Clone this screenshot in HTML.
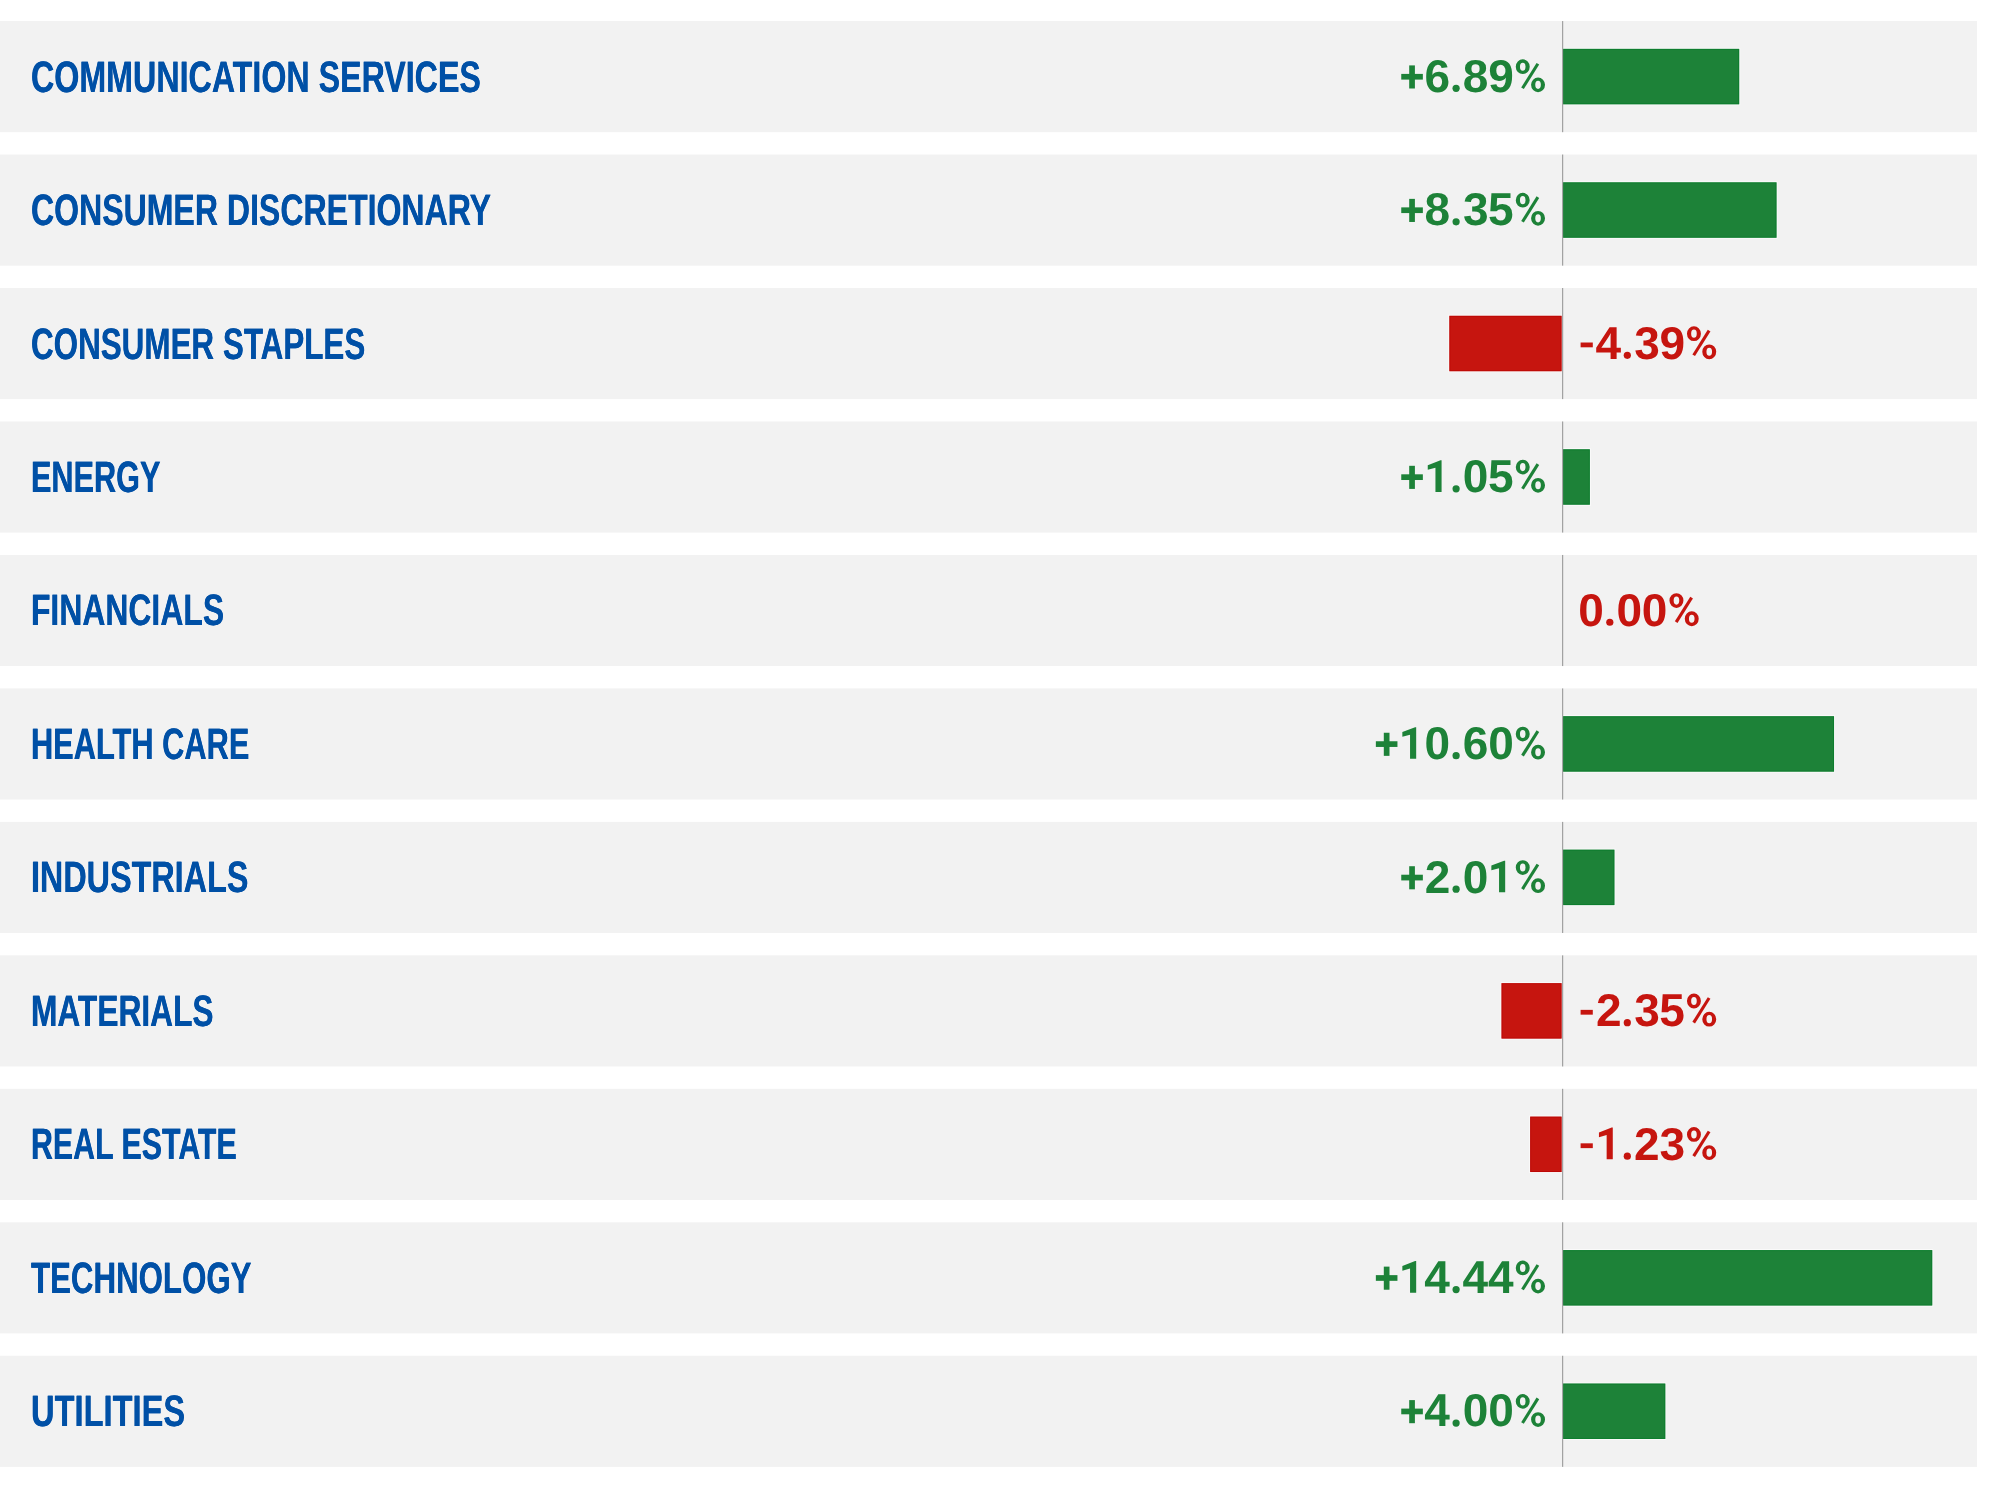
<!DOCTYPE html><html><head><meta charset="utf-8"><style>html,body{margin:0;padding:0;background:#ffffff;width:2000px;height:1490px;overflow:hidden}svg{display:block;will-change:transform}text{font-family:"Liberation Sans",sans-serif;font-weight:bold;text-rendering:geometricPrecision}</style></head><body>
<svg width="2000" height="1490" viewBox="0 0 2000 1490">
<rect x="0" y="21.07" width="1977" height="111.1" fill="#f2f2f2"/>
<rect x="1562.00" y="47.87" width="178.18" height="57.40" fill="#fbfbfb"/><rect x="1563.00" y="48.87" width="176.18" height="55.40" fill="#1d8238"/><rect x="1563.50" y="49.37" width="175.18" height="54.40" fill="none" stroke="#037a28" stroke-width="1" stroke-opacity="0.6"/>
<rect x="1562.1" y="21.07" width="1.1" height="111.1" fill="#999999"/>
<text transform="translate(30.840 0) scale(0.73237 1)" x="0" y="91.57" font-size="44.0" fill="#0050a6" style="text-shadow:0.410px 0 0 #0050a6">COMMUNICATION SERVICES</text>
<g fill="#1d8238" color="#1d8238" font-size="46.0"><rect x="1401.25" y="73.90" width="21.60" height="5.7"/><rect x="1409.20" y="65.40" width="5.7" height="23.10"/><text x="1424.49" y="91.77">6</text><circle cx="1456.10" cy="88.37" r="3.6"/><text x="1462.69" y="91.77">8</text><text x="1488.21" y="91.77">9</text><path fill-rule="evenodd" d="M1515.77 66.70a6.98 7.38 0 1 0 13.96 0a6.98 7.38 0 1 0 -13.96 0ZM1519.95 66.70a2.8 4.05 0 1 0 5.60 0a2.8 4.05 0 1 0 -5.60 0ZM1531.07 84.87a6.98 7.38 0 1 0 13.96 0a6.98 7.38 0 1 0 -13.96 0ZM1535.25 84.87a2.8 4.05 0 1 0 5.60 0a2.8 4.05 0 1 0 -5.60 0Z"/><line x1="1537.90" y1="63.72" x2="1522.48" y2="88.30" stroke="currentColor" stroke-width="3.1"/></g>
<rect x="0" y="154.54" width="1977" height="111.1" fill="#f2f2f2"/>
<rect x="1562.00" y="181.34" width="215.51" height="57.40" fill="#fbfbfb"/><rect x="1563.00" y="182.34" width="213.51" height="55.40" fill="#1d8238"/><rect x="1563.50" y="182.84" width="212.51" height="54.40" fill="none" stroke="#037a28" stroke-width="1" stroke-opacity="0.6"/>
<rect x="1562.1" y="154.54" width="1.1" height="111.1" fill="#999999"/>
<text transform="translate(30.840 0) scale(0.72859 1)" x="0" y="225.04" font-size="44.0" fill="#0050a6" style="text-shadow:0.412px 0 0 #0050a6">CONSUMER DISCRETIONARY</text>
<g fill="#1d8238" color="#1d8238" font-size="46.0"><rect x="1401.25" y="207.37" width="21.60" height="5.7"/><rect x="1409.20" y="198.87" width="5.7" height="23.10"/><text x="1424.49" y="225.24">8</text><circle cx="1456.10" cy="221.84" r="3.6"/><text x="1463.00" y="225.24">3</text><text x="1488.03" y="225.24">5</text><path fill-rule="evenodd" d="M1515.77 200.17a6.98 7.38 0 1 0 13.96 0a6.98 7.38 0 1 0 -13.96 0ZM1519.95 200.17a2.8 4.05 0 1 0 5.60 0a2.8 4.05 0 1 0 -5.60 0ZM1531.07 218.34a6.98 7.38 0 1 0 13.96 0a6.98 7.38 0 1 0 -13.96 0ZM1535.25 218.34a2.8 4.05 0 1 0 5.60 0a2.8 4.05 0 1 0 -5.60 0Z"/><line x1="1537.90" y1="197.19" x2="1522.48" y2="221.77" stroke="currentColor" stroke-width="3.1"/></g>
<rect x="0" y="288.01" width="1977" height="111.1" fill="#f2f2f2"/>
<rect x="1448.35" y="314.81" width="114.25" height="57.40" fill="#fbfbfb"/><rect x="1449.35" y="315.81" width="112.25" height="55.40" fill="#c6150f"/><rect x="1449.85" y="316.31" width="111.25" height="54.40" fill="none" stroke="#b80000" stroke-width="1" stroke-opacity="0.6"/>
<rect x="1562.1" y="288.01" width="1.1" height="111.1" fill="#999999"/>
<text transform="translate(30.840 0) scale(0.71357 1)" x="0" y="358.51" font-size="44.0" fill="#0050a6" style="text-shadow:0.420px 0 0 #0050a6">CONSUMER STAPLES</text>
<g fill="#c6150f" color="#c6150f" font-size="46.0"><rect x="1580.6" y="342.51" width="12.20" height="4.80"/><text x="1595.50" y="358.71">4</text><circle cx="1627.30" cy="355.31" r="3.6"/><text x="1634.20" y="358.71">3</text><text x="1659.41" y="358.71">9</text><path fill-rule="evenodd" d="M1686.97 333.64a6.98 7.38 0 1 0 13.96 0a6.98 7.38 0 1 0 -13.96 0ZM1691.15 333.64a2.8 4.05 0 1 0 5.60 0a2.8 4.05 0 1 0 -5.60 0ZM1702.27 351.81a6.98 7.38 0 1 0 13.96 0a6.98 7.38 0 1 0 -13.96 0ZM1706.45 351.81a2.8 4.05 0 1 0 5.60 0a2.8 4.05 0 1 0 -5.60 0Z"/><line x1="1709.10" y1="330.66" x2="1693.68" y2="355.24" stroke="currentColor" stroke-width="3.1"/></g>
<rect x="0" y="421.48" width="1977" height="111.1" fill="#f2f2f2"/>
<rect x="1562.00" y="448.28" width="28.85" height="57.40" fill="#fbfbfb"/><rect x="1563.00" y="449.28" width="26.85" height="55.40" fill="#1d8238"/><rect x="1563.50" y="449.78" width="25.85" height="54.40" fill="none" stroke="#037a28" stroke-width="1" stroke-opacity="0.6"/>
<rect x="1562.1" y="421.48" width="1.1" height="111.1" fill="#999999"/>
<text transform="translate(30.840 0) scale(0.69654 1)" x="0" y="491.98" font-size="44.0" fill="#0050a6" style="text-shadow:0.431px 0 0 #0050a6">ENERGY</text>
<g fill="#1d8238" color="#1d8238" font-size="46.0"><rect x="1401.25" y="474.31" width="21.60" height="5.7"/><rect x="1409.20" y="465.81" width="5.7" height="23.10"/><path d="M1441.58 460.24 L1441.58 491.91 L1435.45 491.91 L1435.45 467.76 L1427.75 469.86 L1427.75 465.16 L1440.50 460.24Z"/><circle cx="1456.10" cy="488.78" r="3.6"/><text x="1462.75" y="492.18">0</text><text x="1488.03" y="492.18">5</text><path fill-rule="evenodd" d="M1515.77 467.11a6.98 7.38 0 1 0 13.96 0a6.98 7.38 0 1 0 -13.96 0ZM1519.95 467.11a2.8 4.05 0 1 0 5.60 0a2.8 4.05 0 1 0 -5.60 0ZM1531.07 485.28a6.98 7.38 0 1 0 13.96 0a6.98 7.38 0 1 0 -13.96 0ZM1535.25 485.28a2.8 4.05 0 1 0 5.60 0a2.8 4.05 0 1 0 -5.60 0Z"/><line x1="1537.90" y1="464.13" x2="1522.48" y2="488.71" stroke="currentColor" stroke-width="3.1"/></g>
<rect x="0" y="554.95" width="1977" height="111.1" fill="#f2f2f2"/>
<rect x="1562.1" y="554.95" width="1.1" height="111.1" fill="#999999"/>
<text transform="translate(30.840 0) scale(0.72468 1)" x="0" y="625.45" font-size="44.0" fill="#0050a6" style="text-shadow:0.414px 0 0 #0050a6">FINANCIALS</text>
<g fill="#c6150f" color="#c6150f" font-size="46.0"><text x="1578.25" y="625.65">0</text><circle cx="1609.80" cy="622.25" r="3.6"/><text x="1616.45" y="625.65">0</text><text x="1641.85" y="625.65">0</text><path fill-rule="evenodd" d="M1669.47 600.58a6.98 7.38 0 1 0 13.96 0a6.98 7.38 0 1 0 -13.96 0ZM1673.65 600.58a2.8 4.05 0 1 0 5.60 0a2.8 4.05 0 1 0 -5.60 0ZM1684.77 618.75a6.98 7.38 0 1 0 13.96 0a6.98 7.38 0 1 0 -13.96 0ZM1688.95 618.75a2.8 4.05 0 1 0 5.60 0a2.8 4.05 0 1 0 -5.60 0Z"/><line x1="1691.60" y1="597.60" x2="1676.18" y2="622.18" stroke="currentColor" stroke-width="3.1"/></g>
<rect x="0" y="688.42" width="1977" height="111.1" fill="#f2f2f2"/>
<rect x="1562.00" y="715.22" width="273.04" height="57.40" fill="#fbfbfb"/><rect x="1563.00" y="716.22" width="271.04" height="55.40" fill="#1d8238"/><rect x="1563.50" y="716.72" width="270.04" height="54.40" fill="none" stroke="#037a28" stroke-width="1" stroke-opacity="0.6"/>
<rect x="1562.1" y="688.42" width="1.1" height="111.1" fill="#999999"/>
<text transform="translate(30.840 0) scale(0.69963 1)" x="0" y="758.92" font-size="44.0" fill="#0050a6" style="text-shadow:0.429px 0 0 #0050a6">HEALTH CARE</text>
<g fill="#1d8238" color="#1d8238" font-size="46.0"><rect x="1375.85" y="741.25" width="21.60" height="5.7"/><rect x="1383.80" y="732.75" width="5.7" height="23.10"/><path d="M1416.18 727.18 L1416.18 758.85 L1410.05 758.85 L1410.05 734.70 L1402.35 736.80 L1402.35 732.10 L1415.10 727.18Z"/><text x="1424.55" y="759.12">0</text><circle cx="1456.10" cy="755.72" r="3.6"/><text x="1462.69" y="759.12">6</text><text x="1488.15" y="759.12">0</text><path fill-rule="evenodd" d="M1515.77 734.05a6.98 7.38 0 1 0 13.96 0a6.98 7.38 0 1 0 -13.96 0ZM1519.95 734.05a2.8 4.05 0 1 0 5.60 0a2.8 4.05 0 1 0 -5.60 0ZM1531.07 752.22a6.98 7.38 0 1 0 13.96 0a6.98 7.38 0 1 0 -13.96 0ZM1535.25 752.22a2.8 4.05 0 1 0 5.60 0a2.8 4.05 0 1 0 -5.60 0Z"/><line x1="1537.90" y1="731.07" x2="1522.48" y2="755.65" stroke="currentColor" stroke-width="3.1"/></g>
<rect x="0" y="821.89" width="1977" height="111.1" fill="#f2f2f2"/>
<rect x="1562.00" y="848.69" width="53.40" height="57.40" fill="#fbfbfb"/><rect x="1563.00" y="849.69" width="51.40" height="55.40" fill="#1d8238"/><rect x="1563.50" y="850.19" width="50.40" height="54.40" fill="none" stroke="#037a28" stroke-width="1" stroke-opacity="0.6"/>
<rect x="1562.1" y="821.89" width="1.1" height="111.1" fill="#999999"/>
<text transform="translate(30.840 0) scale(0.73490 1)" x="0" y="892.39" font-size="44.0" fill="#0050a6" style="text-shadow:0.408px 0 0 #0050a6">INDUSTRIALS</text>
<g fill="#1d8238" color="#1d8238" font-size="46.0"><rect x="1401.25" y="874.72" width="21.60" height="5.7"/><rect x="1409.20" y="866.22" width="5.7" height="23.10"/><text x="1424.67" y="892.59">2</text><circle cx="1456.10" cy="889.19" r="3.6"/><text x="1462.75" y="892.59">0</text><path d="M1505.18 860.65 L1505.18 892.32 L1499.05 892.32 L1499.05 868.17 L1491.35 870.27 L1491.35 865.57 L1504.10 860.65Z"/><path fill-rule="evenodd" d="M1515.77 867.52a6.98 7.38 0 1 0 13.96 0a6.98 7.38 0 1 0 -13.96 0ZM1519.95 867.52a2.8 4.05 0 1 0 5.60 0a2.8 4.05 0 1 0 -5.60 0ZM1531.07 885.69a6.98 7.38 0 1 0 13.96 0a6.98 7.38 0 1 0 -13.96 0ZM1535.25 885.69a2.8 4.05 0 1 0 5.60 0a2.8 4.05 0 1 0 -5.60 0Z"/><line x1="1537.90" y1="864.54" x2="1522.48" y2="889.12" stroke="currentColor" stroke-width="3.1"/></g>
<rect x="0" y="955.36" width="1977" height="111.1" fill="#f2f2f2"/>
<rect x="1500.51" y="982.16" width="62.09" height="57.40" fill="#fbfbfb"/><rect x="1501.51" y="983.16" width="60.09" height="55.40" fill="#c6150f"/><rect x="1502.01" y="983.66" width="59.09" height="54.40" fill="none" stroke="#b80000" stroke-width="1" stroke-opacity="0.6"/>
<rect x="1562.1" y="955.36" width="1.1" height="111.1" fill="#999999"/>
<text transform="translate(30.840 0) scale(0.72079 1)" x="0" y="1025.86" font-size="44.0" fill="#0050a6" style="text-shadow:0.416px 0 0 #0050a6">MATERIALS</text>
<g fill="#c6150f" color="#c6150f" font-size="46.0"><rect x="1580.6" y="1009.86" width="12.20" height="4.80"/><text x="1595.88" y="1026.06">2</text><circle cx="1627.30" cy="1022.66" r="3.6"/><text x="1634.20" y="1026.06">3</text><text x="1659.23" y="1026.06">5</text><path fill-rule="evenodd" d="M1686.97 1000.99a6.98 7.38 0 1 0 13.96 0a6.98 7.38 0 1 0 -13.96 0ZM1691.15 1000.99a2.8 4.05 0 1 0 5.60 0a2.8 4.05 0 1 0 -5.60 0ZM1702.27 1019.16a6.98 7.38 0 1 0 13.96 0a6.98 7.38 0 1 0 -13.96 0ZM1706.45 1019.16a2.8 4.05 0 1 0 5.60 0a2.8 4.05 0 1 0 -5.60 0Z"/><line x1="1709.10" y1="998.01" x2="1693.68" y2="1022.59" stroke="currentColor" stroke-width="3.1"/></g>
<rect x="0" y="1088.83" width="1977" height="111.1" fill="#f2f2f2"/>
<rect x="1529.15" y="1115.63" width="33.45" height="57.40" fill="#fbfbfb"/><rect x="1530.15" y="1116.63" width="31.45" height="55.40" fill="#c6150f"/><rect x="1530.65" y="1117.13" width="30.45" height="54.40" fill="none" stroke="#b80000" stroke-width="1" stroke-opacity="0.6"/>
<rect x="1562.1" y="1088.83" width="1.1" height="111.1" fill="#999999"/>
<text transform="translate(30.840 0) scale(0.68992 1)" x="0" y="1159.33" font-size="44.0" fill="#0050a6" style="text-shadow:0.435px 0 0 #0050a6">REAL ESTATE</text>
<g fill="#c6150f" color="#c6150f" font-size="46.0"><rect x="1580.6" y="1143.33" width="12.20" height="4.80"/><path d="M1612.78 1127.59 L1612.78 1159.26 L1606.65 1159.26 L1606.65 1135.11 L1598.95 1137.21 L1598.95 1132.51 L1611.70 1127.59Z"/><circle cx="1627.30" cy="1156.13" r="3.6"/><text x="1634.08" y="1159.53">2</text><text x="1659.60" y="1159.53">3</text><path fill-rule="evenodd" d="M1686.97 1134.46a6.98 7.38 0 1 0 13.96 0a6.98 7.38 0 1 0 -13.96 0ZM1691.15 1134.46a2.8 4.05 0 1 0 5.60 0a2.8 4.05 0 1 0 -5.60 0ZM1702.27 1152.63a6.98 7.38 0 1 0 13.96 0a6.98 7.38 0 1 0 -13.96 0ZM1706.45 1152.63a2.8 4.05 0 1 0 5.60 0a2.8 4.05 0 1 0 -5.60 0Z"/><line x1="1709.10" y1="1131.48" x2="1693.68" y2="1156.06" stroke="currentColor" stroke-width="3.1"/></g>
<rect x="0" y="1222.30" width="1977" height="111.1" fill="#f2f2f2"/>
<rect x="1562.00" y="1249.10" width="371.23" height="57.40" fill="#fbfbfb"/><rect x="1563.00" y="1250.10" width="369.23" height="55.40" fill="#1d8238"/><rect x="1563.50" y="1250.60" width="368.23" height="54.40" fill="none" stroke="#037a28" stroke-width="1" stroke-opacity="0.6"/>
<rect x="1562.1" y="1222.30" width="1.1" height="111.1" fill="#999999"/>
<text transform="translate(30.840 0) scale(0.71044 1)" x="0" y="1292.80" font-size="44.0" fill="#0050a6" style="text-shadow:0.422px 0 0 #0050a6">TECHNOLOGY</text>
<g fill="#1d8238" color="#1d8238" font-size="46.0"><rect x="1375.85" y="1275.13" width="21.60" height="5.7"/><rect x="1383.80" y="1266.63" width="5.7" height="23.10"/><path d="M1416.18 1261.06 L1416.18 1292.73 L1410.05 1292.73 L1410.05 1268.58 L1402.35 1270.68 L1402.35 1265.98 L1415.10 1261.06Z"/><text x="1424.30" y="1293.00">4</text><circle cx="1456.10" cy="1289.60" r="3.6"/><text x="1462.50" y="1293.00">4</text><text x="1487.90" y="1293.00">4</text><path fill-rule="evenodd" d="M1515.77 1267.93a6.98 7.38 0 1 0 13.96 0a6.98 7.38 0 1 0 -13.96 0ZM1519.95 1267.93a2.8 4.05 0 1 0 5.60 0a2.8 4.05 0 1 0 -5.60 0ZM1531.07 1286.10a6.98 7.38 0 1 0 13.96 0a6.98 7.38 0 1 0 -13.96 0ZM1535.25 1286.10a2.8 4.05 0 1 0 5.60 0a2.8 4.05 0 1 0 -5.60 0Z"/><line x1="1537.90" y1="1264.95" x2="1522.48" y2="1289.53" stroke="currentColor" stroke-width="3.1"/></g>
<rect x="0" y="1355.77" width="1977" height="111.1" fill="#f2f2f2"/>
<rect x="1562.00" y="1382.57" width="104.28" height="57.40" fill="#fbfbfb"/><rect x="1563.00" y="1383.57" width="102.28" height="55.40" fill="#1d8238"/><rect x="1563.50" y="1384.07" width="101.28" height="54.40" fill="none" stroke="#037a28" stroke-width="1" stroke-opacity="0.6"/>
<rect x="1562.1" y="1355.77" width="1.1" height="111.1" fill="#999999"/>
<text transform="translate(30.840 0) scale(0.74155 1)" x="0" y="1426.27" font-size="44.0" fill="#0050a6" style="text-shadow:0.405px 0 0 #0050a6">UTILITIES</text>
<g fill="#1d8238" color="#1d8238" font-size="46.0"><rect x="1401.25" y="1408.60" width="21.60" height="5.7"/><rect x="1409.20" y="1400.10" width="5.7" height="23.10"/><text x="1424.30" y="1426.47">4</text><circle cx="1456.10" cy="1423.07" r="3.6"/><text x="1462.75" y="1426.47">0</text><text x="1488.15" y="1426.47">0</text><path fill-rule="evenodd" d="M1515.77 1401.40a6.98 7.38 0 1 0 13.96 0a6.98 7.38 0 1 0 -13.96 0ZM1519.95 1401.40a2.8 4.05 0 1 0 5.60 0a2.8 4.05 0 1 0 -5.60 0ZM1531.07 1419.57a6.98 7.38 0 1 0 13.96 0a6.98 7.38 0 1 0 -13.96 0ZM1535.25 1419.57a2.8 4.05 0 1 0 5.60 0a2.8 4.05 0 1 0 -5.60 0Z"/><line x1="1537.90" y1="1398.42" x2="1522.48" y2="1423.00" stroke="currentColor" stroke-width="3.1"/></g>
</svg></body></html>
